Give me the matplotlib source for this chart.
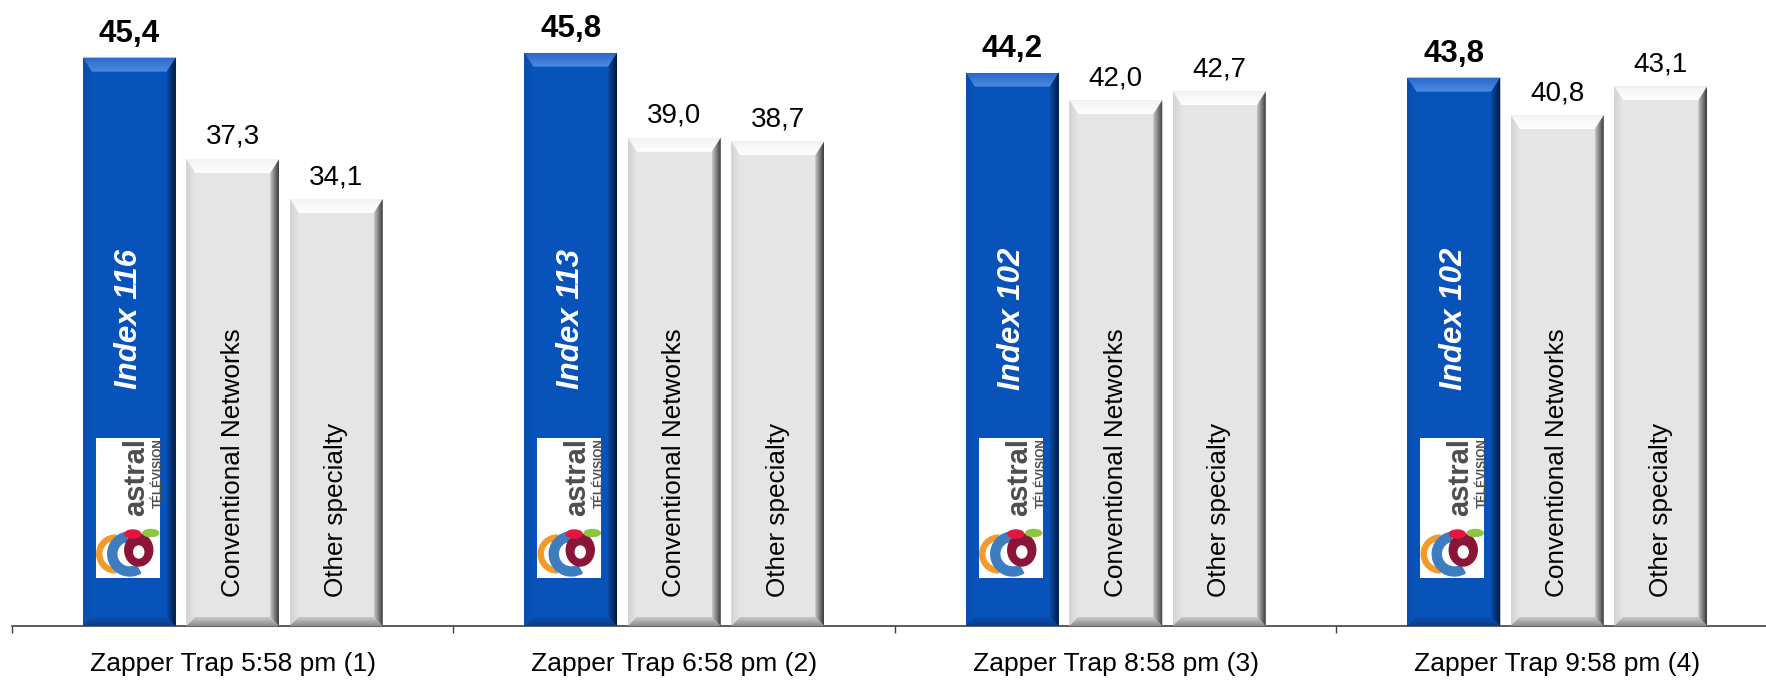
import numpy as np
import matplotlib
matplotlib.use('Agg')
import matplotlib.pyplot as plt
from matplotlib.patches import Polygon, Rectangle, Wedge, Ellipse
from matplotlib.colors import to_rgb

plt.rcParams['font.family'] = ['Liberation Sans', 'DejaVu Sans']

# Данные
groups = ['Zapper Trap 5:58 pm (1)', 'Zapper Trap 6:58 pm (2)',
          'Zapper Trap 8:58 pm (3)', 'Zapper Trap 9:58 pm (4)']
astral = [45.4, 45.8, 44.2, 43.8]
conventional = [37.3, 39.0, 42.0, 40.8]
other = [34.1, 38.7, 42.7, 43.1]
index_vals = [116, 113, 102, 102]
series_names = ['Astral', 'Conventional Networks', 'Other specialty']

W, H = 1766, 680
fig = plt.figure(figsize=(W / 100, H / 100), dpi=100)
ax = fig.add_axes([12 / W, 54 / H, 4 * 441.5 / W, 626 / H])
ax.set_xlim(-0.5, 3.5)
ax.set_ylim(0, 50)

px_x = 1 / 441.5      # data units per pixel
px_y = 50 / 626

bw = 93 * px_x
step = 103.5 * px_x
x = np.arange(len(groups))

BLUE = '#0753BA'
GREY = '#E5E5E5'


def fmt(v):
    return f'{v:.1f}'.replace('.', ',')


def grad_poly(verts, c0, c1, direction):
    poly = Polygon(verts, closed=True, facecolor='none', edgecolor='none')
    ax.add_patch(poly)
    xs, ys = zip(*verts)
    t = np.linspace(0, 1, 64)[:, None]
    cols = np.array(to_rgb(c0)) * (1 - t) + np.array(to_rgb(c1)) * t
    img = cols[None, :, :] if direction == 'x' else cols[:, None, :]
    im = ax.imshow(img, extent=(min(xs), max(xs), min(ys), max(ys)), origin='lower',
                   aspect='auto', interpolation='bilinear', zorder=3)
    im.set_clip_path(poly)


def bevel(x0, h, colors):
    x1 = x0 + bw
    bx, bt, bb = 9 * px_x, 14 * px_y, 9 * px_y
    top, right, bottom, left = colors
    grad_poly([(x0, h), (x1, h), (x1 - bx, h - bt), (x0 + bx, h - bt)], top[1], top[0], 'y')
    grad_poly([(x0, 0), (x0, h), (x0 + bx, h - bt), (x0 + bx, bb)], left[0], left[1], 'x')
    grad_poly([(x0, 0), (x1, 0), (x1 - bx, bb), (x0 + bx, bb)], bottom[0], bottom[1], 'y')
    grad_poly([(x1, h), (x1, 0), (x1 - bx, bb), (x1 - bx, h - bt)], right[0], right[1], 'x')


blue_bev = (('#2A68C9', '#4C8BE4'), ('#0A4AA5', '#01183A'),
            ('#073F90', '#0B4DAD'), ('#0B4DAD', BLUE))
grey_bev = (('#F2F2F2', '#FFFFFF'), ('#C8C8C8', '#3A3A3A'),
            ('#8C8C8C', '#C9C9C9'), ('#D2D2D2', GREY))

series = [astral, conventional, other]
offsets = [-step, 0, step]
for k, (vals, off) in enumerate(zip(series, offsets)):
    color = BLUE if k == 0 else GREY
    bars = ax.bar(x + off, vals, bw, color=color, zorder=2, label=series_names[k])
    for b, v in zip(bars, vals):
        bevel(b.get_x(), v, blue_bev if k == 0 else grey_bev)
        if k == 0:
            ax.annotate(fmt(v), (b.get_x() + bw / 2, v), xytext=(0, 6), textcoords='offset points',
                        ha='center', va='bottom', fontsize=22.6, fontweight='bold', zorder=5)
        else:
            ax.annotate(fmt(v), (b.get_x() + bw / 2, v), xytext=(0, 6.5), textcoords='offset points',
                        ha='center', va='bottom', fontsize=20, zorder=5)
            ax.text(b.get_x() + bw / 2, 2.3, series_names[k], rotation=90, ha='center',
                    va='bottom', fontsize=18.8, zorder=5)

# Index-подписи и логотип
for i in range(len(groups)):
    xc = x[i] - step
    ax.text(xc, 24.5, f'Index {index_vals[i]}', rotation=90, ha='center', va='center',
            color='white', fontsize=22.5, fontweight='bold', style='italic', zorder=5)

    lx0 = xc - bw / 2 + 13 * px_x
    lg = ax.inset_axes([lx0, 48 * px_y, 64 * px_x, 140 * px_y], transform=ax.transData, zorder=6)
    lg.set_xlim(0, 64)
    lg.set_ylim(0, 140)
    lg.axis('off')
    lg.add_patch(Rectangle((0, 0), 64, 140, color='white'))
    lg.add_patch(Wedge((20, 24), 19, 90, 270, width=5, color='#F39A2B'))
    lg.add_patch(Wedge((34, 24), 22, 100, 300, width=9, color='#3E7CC0'))
    lg.add_patch(Ellipse((43, 28), 28, 32, color='#8B1538'))
    lg.add_patch(Ellipse((43, 26), 10, 12, color='white'))
    lg.add_patch(Ellipse((37, 44), 16, 8, color='#E3173E'))
    lg.add_patch(Ellipse((55, 45), 16, 7, color='#8CC63F'))
    lg.text(54, 140, 'astral', rotation=90, ha='right', va='top', fontsize=21,
            fontweight='bold', color='#4D4D4D')
    lg.text(57, 140, 'TÉLÉVISION', rotation=90, ha='left', va='top', fontsize=8.5,
            fontweight='bold', color='#4D4D4D')

for s in ['top', 'right', 'left']:
    ax.spines[s].set_visible(False)
ax.spines['bottom'].set_color('#404040')
ax.spines['bottom'].set_linewidth(1.2)
ax.set_yticks([])
ax.set_xticks(x)
ax.set_xticklabels(groups, fontsize=19)
ax.tick_params(axis='x', which='major', length=0, pad=19)
ax.set_xticks(np.arange(-0.5, 4.0, 1), minor=True)
ax.tick_params(axis='x', which='minor', length=5, width=1, color='#404040', direction='out')

plt.savefig('out.png', dpi=100)
